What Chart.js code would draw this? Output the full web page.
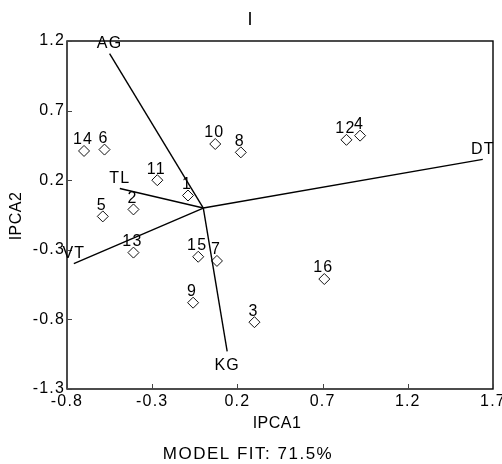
<!DOCTYPE html>
<html>
<head>
<meta charset="utf-8">
<script src="https://cdn.jsdelivr.net/npm/chart.js@4.4.1/dist/chart.umd.min.js"></script>
<style>
  body { margin: 0; background: #fff; }
  canvas { display: block; }
</style>
</head>
<body>
<canvas id="biplot" width="502" height="464"></canvas>
<script>
// genotypes (diamonds)
const genoLabels = ['1', '2', '3', '4', '5', '6', '7', '8', '9', '10', '11', '12', '13', '14', '15', '16'];
const genoX = [-0.09, -0.41, 0.30, 0.92, -0.59, -0.58, 0.08, 0.22, -0.06, 0.07, -0.27, 0.84, -0.41, -0.70, -0.03, 0.71];
const genoY = [0.09, -0.01, -0.82, 0.52, -0.06, 0.42, -0.38, 0.40, -0.68, 0.46, 0.20, 0.49, -0.32, 0.41, -0.35, -0.51];

// environments (vectors from origin)
const envLabels = ['AG', 'DT', 'KG', 'TL', 'VT'];
const envX = [-0.55, 1.64, 0.14, -0.49, -0.76];
const envY = [1.11, 0.35, -1.03, 0.14, -0.40];

const xTicks = [-0.8, -0.3, 0.2, 0.7, 1.2, 1.7];
const yTicks = [-1.3, -0.8, -0.3, 0.2, 0.7, 1.2];

const chartTitle = 'I';
const xTitle = 'IPCA1';
const yTitle = 'IPCA2';
const fitText = 'MODEL FIT: 71.5%';

const FONT = "'Liberation Sans', Arial, sans-serif";

let datasets = [];
envLabels.forEach((name, i) => {
    datasets.push({
        label: name,
        data: [{ x: 0, y: 0 }, { x: envX[i], y: envY[i] }],
        showLine: true,
        borderColor: '#000',
        borderWidth: 1.4,
        pointRadius: 0,
        fill: false
    });
});
datasets.push({
    label: 'genotypes',
    data: genoX.map((v, i) => ({ x: v, y: genoY[i] })),
    pointStyle: 'rectRot',
    pointRadius: 5.5,
    borderColor: '#111',
    borderWidth: 1,
    backgroundColor: 'rgba(0,0,0,0)'
});

const biplotDecor = {
    id: 'biplotDecor',
    beforeDraw(chart) {
        chart.ctx.letterSpacing = '1.2px';
    },
    afterDraw(chart) {
        const ctx = chart.ctx;
        const a = chart.chartArea;
        const xs = chart.scales.x, ys = chart.scales.y;
        ctx.save();
        ctx.strokeStyle = '#000';
        ctx.lineWidth = 1.4;
        ctx.strokeRect(a.left, a.top, a.right - a.left, a.bottom - a.top);
        // inward tick marks
        ctx.lineWidth = 1;
        ctx.strokeStyle = '#444';
        ctx.beginPath();
        xTicks.forEach(v => {
            const px = Math.round(xs.getPixelForValue(v)) + 0.5;
            ctx.moveTo(px, a.bottom);
            ctx.lineTo(px, a.bottom - 5);
        });
        yTicks.forEach(v => {
            const py = Math.round(ys.getPixelForValue(v)) + 0.5;
            ctx.moveTo(a.left, py);
            ctx.lineTo(a.left + 5, py);
        });
        ctx.stroke();

        ctx.fillStyle = '#000';
        ctx.textAlign = 'center';
        ctx.textBaseline = 'middle';

        // point labels
        ctx.font = '16px ' + FONT;
        ctx.letterSpacing = '1.2px';
        genoLabels.forEach((t, i) => {
            const px = xs.getPixelForValue(genoX[i]);
            const py = ys.getPixelForValue(genoY[i]);
            ctx.fillText(t, px - 1, py - 11);
        });
        envLabels.forEach((t, i) => {
            const px = xs.getPixelForValue(envX[i]);
            const py = ys.getPixelForValue(envY[i]);
            const below = envY[i] < 0 && Math.abs(envY[i]) > Math.abs(envX[i]);
            ctx.fillText(t, px, below ? py + 14 : py - 10);
        });

        // titles
        ctx.font = '18px ' + FONT;
        ctx.letterSpacing = '0px';
        ctx.fillText(chartTitle, 250, 20);
        ctx.font = '16px ' + FONT;
        ctx.letterSpacing = '0.5px';
        ctx.fillText(xTitle, 277, 424);
        ctx.font = '17px ' + FONT;
        ctx.letterSpacing = '1.5px';
        ctx.fillText(fitText, 248, 454);
        ctx.translate(17, 216);
        ctx.rotate(-Math.PI / 2);
        ctx.font = '16px ' + FONT;
        ctx.letterSpacing = '0.5px';
        ctx.fillText(yTitle, 0, 0);
        ctx.restore();
    }
};

const fmt = v => Number(v).toFixed(1);

new Chart(document.getElementById('biplot'), {
    type: 'scatter',
    data: { datasets: datasets },
    options: {
        responsive: false,
        animation: false,
        layout: { padding: { left: 0, top: 41, right: 9, bottom: 0 } },
        plugins: {
            legend: { display: false },
            tooltip: { enabled: false }
        },
        scales: {
            x: {
                type: 'linear',
                min: -0.8,
                max: 1.7,
                afterBuildTicks: s => { s.ticks = xTicks.map(v => ({ value: v })); },
                afterFit: s => { s.height = 75; s.paddingLeft = 0; s.paddingRight = 0; },
                grid: { display: false, drawTicks: false },
                border: { display: false },
                ticks: {
                    padding: 3,
                    maxRotation: 0,
                    autoSkip: false,
                    color: '#000',
                    font: { family: FONT, size: 16 },
                    callback: fmt
                }
            },
            y: {
                type: 'linear',
                min: -1.3,
                max: 1.2,
                afterBuildTicks: s => { s.ticks = yTicks.map(v => ({ value: v })); },
                afterFit: s => { s.width = 67; s.paddingTop = 0; s.paddingBottom = 0; },
                grid: { display: false, drawTicks: false },
                border: { display: false },
                ticks: {
                    padding: 2,
                    autoSkip: false,
                    color: '#000',
                    font: { family: FONT, size: 16 },
                    callback: fmt
                }
            }
        }
    },
    plugins: [biplotDecor]
});
</script>
</body>
</html>
